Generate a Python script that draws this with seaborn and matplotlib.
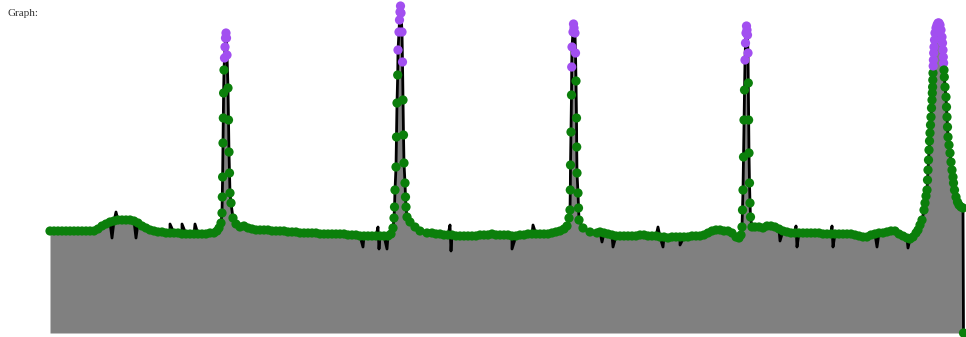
import numpy as np
import pandas as pd
import matplotlib
matplotlib.use("Agg")
import matplotlib.pyplot as plt
import seaborn as sns

# ---- sampled signal (time, amplitude) ----
time = [
    50, 54, 58, 62, 66, 70, 74, 78, 82, 86, 90, 94,
    98, 102, 106, 110, 114, 118, 122, 126, 130, 134, 138, 142, 146, 150, 154, 158,
    162, 166, 170, 174, 178, 182, 186, 190, 194, 198, 202, 206, 210, 214, 217, 219,
    # spike 1
    221, 222, 222.3, 222.6, 223, 223.3, 223.6, 224, 224.5, 225, 225.5, 226,
    226.5, 227, 228, 228.5, 229, 229.5, 230, 231, 233, 236, 240,
    244, 248, 252, 256, 260, 264, 268, 272, 276, 280, 284, 288, 292, 296, 300,
    304, 308, 312, 316, 320, 324, 328, 332, 336, 340, 344, 348, 352, 356, 360,
    364, 368, 372, 376, 380, 384, 388, 391, 393,
    # spike 2
    394, 394.5, 395, 396, 396.5, 397, 397.7, 398, 399, 399.5, 400, 400.5,
    401, 402, 402.5, 403, 403.5, 404, 405, 405.5, 406, 407, 410, 415, 420, 427,
    432, 436, 440, 444, 448, 452, 456, 460, 464, 468, 472, 476, 480, 484, 488,
    492, 496, 500, 504, 508, 512, 516, 520, 524, 528, 532, 536, 540, 544, 548,
    552, 556, 560, 564, 567,
    # spike 3
    569, 570, 570.3, 570.5, 571, 571.5, 571.7, 572, 573, 573.5, 574, 575,
    575.5, 576, 576.5, 576.7, 577, 578, 578.5, 579, 583, 590, 597,
    600, 604, 608, 612, 616, 620, 624, 628, 632, 636, 640, 644, 648, 652, 656,
    660, 664, 668, 672, 676, 680, 684, 688, 692, 696, 700, 704, 708, 712, 716,
    720, 724, 728, 732, 736, 739, 741,
    # spike 4
    742, 742.5, 743, 743.5, 744, 744.5, 745, 745.5, 746, 746.5, 747, 747.5,
    748, 748.3, 748.6, 749, 749.5, 750, 750.5, 752,
    755, 759, 763, 767, 771, 775, 779, 783, 787, 791, 795, 799, 803, 807, 811,
    815, 819, 823, 827, 831, 835, 839, 843, 847, 851, 855, 859, 863, 867, 871,
    875, 879, 883, 887, 891, 895, 899, 903, 907, 910, 913, 916, 918,
    # spike 5
    920, 922, 924, 925, 926, 927, 927.5, 928, 928.5, 929, 929.5, 930, 930.5,
    931, 931.5, 932, 932.3, 932.6, 932.8, 933, 933.2, 933.4, 933.7, 934, 934.5,
    935, 936, 937, 938, 939, 940, 941, 942, 942.5, 943, 943.3, 943.6, 944,
    944.3, 945, 946, 946.5, 947, 947.5, 948, 949, 950, 951, 952, 953, 953.5,
    954.5, 956, 957.5, 959, 961, 963, 963.5,
]
amplitude = [
    102, 102, 102, 102, 102, 102, 102, 102, 102, 102, 102, 102,
    104, 107, 109, 111, 112, 113, 113, 113, 113, 112, 110, 107, 105, 103, 102, 101,
    101, 100, 100, 100, 100, 99, 99, 99, 99, 99, 99, 99, 100, 100, 102, 105,
    # spike 1
    110, 120, 136, 156, 190, 215, 240, 263, 275, 286, 295, 300,
    295, 278, 245, 213, 181, 160, 140, 130, 115, 109, 106,
    107, 105, 104, 103, 103, 103, 103, 102, 102, 102, 102, 101, 101, 101, 100,
    100, 100, 100, 100, 99, 99, 99, 99, 99, 99, 99, 98, 98, 98, 97,
    97, 97, 97, 97, 97, 97, 97, 99, 105,
    # spike 2
    115, 126, 143, 166, 196, 230, 258, 283, 301, 313, 321, 327,
    320, 301, 271, 233, 198, 170, 150, 136, 126, 116, 111, 106, 102, 100,
    100, 99, 99, 98, 98, 98, 97, 97, 97, 97, 97, 97, 98, 98, 98,
    99, 98, 98, 98, 98, 97, 97, 98, 98, 99, 99, 99, 99, 99, 99,
    100, 101, 102, 104, 107,
    # spike 3
    115, 123, 143, 168, 201, 238, 266, 286, 301, 309, 305, 300,
    280, 252, 215, 186, 160, 140, 125, 113, 105, 101, 100,
    101, 100, 99, 98, 97, 97, 97, 97, 97, 97, 98, 98, 97, 97, 97,
    96, 96, 95, 96, 96, 96, 96, 96, 97, 97, 97, 98, 100, 102, 103,
    103, 102, 102, 100, 96, 95, 98,
    # spike 4
    106, 123, 143, 176, 213, 243, 273, 290, 300, 307, 303, 298,
    280, 250, 213, 180, 150, 130, 116, 106,
    106, 106, 105, 107, 107, 106, 104, 102, 101, 100, 100, 100, 100, 100, 100,
    100, 100, 99, 99, 99, 99, 99, 99, 99, 99, 98, 97, 96, 96, 98,
    99, 100, 100, 101, 102, 102, 99, 97, 95, 94, 96, 100, 103,
    # spike 5
    108, 113, 123, 130, 137, 143, 153, 163, 173, 183, 192, 200, 208,
    216, 225, 233, 240, 246, 253, 260, 267, 273, 280, 286, 293,
    300, 305, 308, 310, 310, 308, 303, 296, 290, 283, 276, 270, 263,
    256, 246, 236, 226, 216, 206, 196, 188, 180, 171, 163, 156, 150,
    143, 136, 131, 128, 126, 125, 0,
]

# single-sample artefacts visible only on the trace (no marker)
glitch_time = [112, 116, 136, 170, 182, 195, 363, 378, 379, 387, 450, 451, 512,
               533, 602, 613, 658, 663, 680, 780, 796, 797, 832, 833, 877, 908]
glitch_amplitude = [95, 121, 95, 109, 109, 109, 86, 106, 84, 84, 108, 82, 84,
                    108, 91, 86, 106, 86, 88, 92, 107, 86, 107, 86, 86, 85]

PEAK_THRESHOLD = 265

samples = pd.DataFrame({"time": time, "amplitude": amplitude})
samples["zone"] = np.where(samples["amplitude"] > PEAK_THRESHOLD, "peak", "normal")
glitches = pd.DataFrame({"time": glitch_time, "amplitude": glitch_amplitude})
trace = (pd.concat([samples[["time", "amplitude"]], glitches])
         .sort_values("time", kind="stable").reset_index(drop=True))

sns.set_theme(style="white")
fig = plt.figure(figsize=(9.66, 3.37), dpi=100)
ax = fig.add_axes([0, 0, 1, 1])

ax.fill_between(trace["time"], trace["amplitude"], 0, color="#808080", lw=0, zorder=1)
sns.lineplot(data=trace, x="time", y="amplitude", color="black", lw=2.0,
             sort=False, estimator=None, ax=ax, zorder=2)
sns.scatterplot(data=samples, x="time", y="amplitude", hue="zone",
                palette={"normal": "#0b7f0b", "peak": "#a24ff0"},
                s=44, linewidth=0, legend=False, ax=ax, zorder=3)

ax.set_xlim(0, 966)
ax.set_ylim(-4, 333)
ax.axis("off")

fig.text(8 / 966, 1 - 16 / 337, "Graph:", family="Liberation Serif",
         fontsize=8, color="#333333")

fig.savefig("out.png", dpi=100)
